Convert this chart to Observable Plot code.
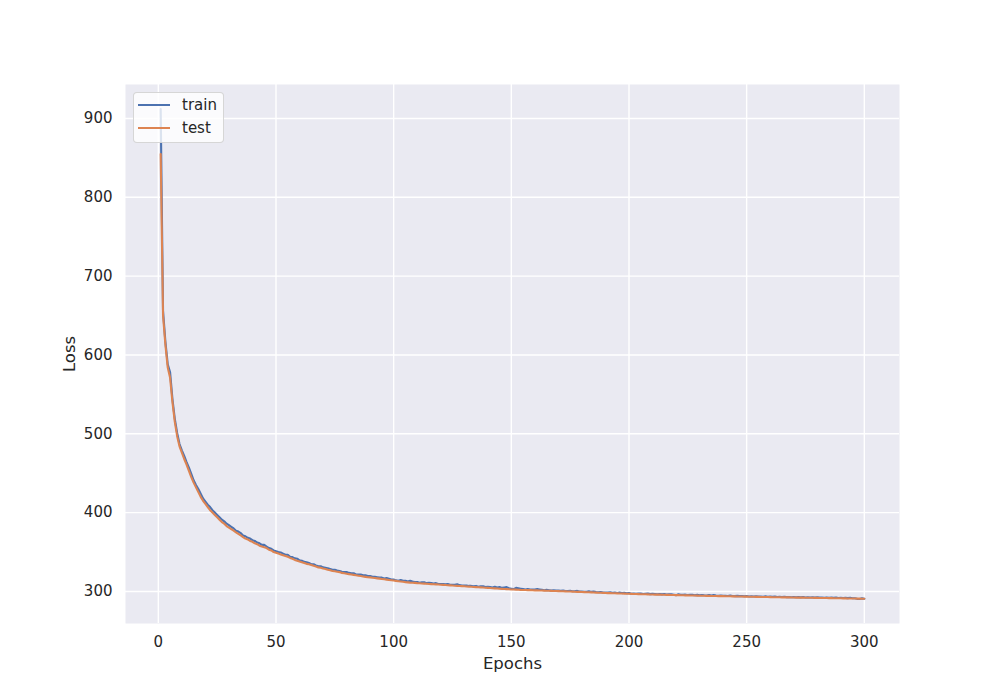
<!DOCTYPE html>
<html><head><meta charset="utf-8">
<script src="https://cdn.jsdelivr.net/npm/d3@7"></script>
<script src="https://cdn.jsdelivr.net/npm/@observablehq/plot@0.6"></script>
<style>
body{margin:0;background:#fff;}
#wrap{position:relative;width:1000px;height:700px;font-family:"DejaVu Sans",sans-serif;color:#262626;}
#legend{position:absolute;left:133px;top:92px;width:91px;height:51px;box-sizing:border-box;background:rgba(255,255,255,0.8);border:1px solid rgba(204,204,204,0.8);border-radius:4px;}
.row{position:absolute;left:0;height:20px;width:100%;}
.sw{position:absolute;left:4px;width:32px;top:9px;height:2.1px;}
.lab{position:absolute;left:48px;top:0;font-size:15px;line-height:20px;}
</style></head>
<body><div id="wrap"><div id="chart"></div>
<div id="legend"></div></div>
<script>
const seriesNames = ["train", "test"];
const seriesColors = ["#4c72b0", "#dd8452"];
const xTicks = [0, 50, 100, 150, 200, 250, 300];
const yTicks = [300, 400, 500, 600, 700, 800, 900];

const train = [
912, 656, 617, 588, 578, 544, 519, 501, 487, 479,
472, 464, 457, 449, 441, 435, 430, 424, 418, 414,
410, 407, 403, 400, 397, 394, 391, 389, 386, 384,
382, 380, 377, 376, 374, 371, 370, 368, 367, 365,
364, 362, 361, 359, 359, 357, 355, 354, 352, 351,
350, 349.5, 348, 346.5, 346.5, 344, 343.5, 342, 341.5, 339.5,
339, 337.5, 337, 336, 334.5, 334.5, 333, 332, 332, 330.5,
330, 329.5, 328.5, 327.5, 327.5, 326.5, 326, 325, 324.5, 324.5,
323.5, 323, 323, 321.5, 321.5, 321.5, 320.5, 320.5, 319.5, 319.5,
318.5, 318.5, 318, 317.5, 317.5, 316.5, 317, 316, 315, 315,
314, 313.5, 314.5, 313.5, 313.5, 312.5, 313.5, 312.5, 312, 312,
311, 311.5, 311.5, 310.5, 311, 310.5, 310, 310.5, 309.5, 309.5,
309.5, 309, 309.5, 308.5, 308.5, 308.5, 309, 308, 307.5, 307.5,
307.5, 307, 307, 306.5, 307, 306, 306.5, 306.5, 305.5, 306,
305.5, 305, 306, 305, 305.5, 304.5, 305, 305.5, 304, 303.5,
303, 304.5, 304, 303.5, 303, 302.5, 303, 302.5, 302.5, 302.5,
303, 302.5, 302, 301.5, 302, 301.5, 301, 301.5, 301, 301,
300.8, 301.2, 300.5, 300.6, 300.9, 300.3, 300.2, 300.7, 299.8, 299.7,
299.6, 299.5, 300.2, 299.4, 299.9, 299.2, 298.9, 299.3, 298.7, 298.6,
298.5, 298.8, 298.3, 298.6, 298.1, 298.5, 297.9, 298.3, 297.7, 297.9,
297, 297.3, 296.9, 297.2, 297.4, 296.8, 297.0, 297.2, 296.6, 296.9,
296.8, 296.4, 296.8, 296.3, 296.7, 296.1, 296.5, 296.3, 295.8, 295.3,
296.3, 295.7, 295.6, 295.9, 295.4, 295.7, 295.6, 295.2, 295.6, 295.1,
295.4, 295.1, 294.9, 295.4, 294.8, 295.3, 294.7, 294.6, 294.9, 294.4,
294.6, 294.3, 294.7, 294.2, 294.1, 294.4, 294.0, 294.3, 293.8, 294.1,
293.6, 293.8, 293.5, 293.9, 293.4, 293.6, 293.3, 293.7, 293.2, 293.4,
293.1, 293.5, 293.0, 293.2, 292.9, 293.3, 292.8, 293.0, 292.7, 292.9,
292.6, 292.8, 292.5, 292.9, 292.4, 292.6, 292.3, 292.5, 292.2, 292.6,
292.1, 292.3, 292.0, 292.4, 291.9, 292.1, 291.8, 292.2, 291.7, 291.9,
291.6, 291.8, 291.5, 291.9, 291.4, 291.3, 290.6, 290.4, 291.2, 290.8
];

const test = [
855, 650, 613, 584, 571, 540, 515, 497, 484, 476,
468, 461, 453, 445, 438, 432, 426, 420, 415, 411,
407, 403, 400, 397, 394, 391, 388, 386, 383, 381,
379, 377, 375, 373, 371, 369, 367, 366, 364, 363,
361, 360, 358, 357, 356, 355, 353, 352, 350, 349,
348, 347, 346, 345, 344, 342.5, 341.5, 340, 339, 338,
337, 336, 335, 334.5, 333.5, 332.5, 331.5, 330.5, 330, 329,
328.5, 327.5, 327, 326, 325.5, 325, 324.5, 323.5, 323, 322.5,
322, 321.5, 321, 320.5, 320, 319.5, 319, 318.5, 318, 317.8,
317.4, 317, 316.6, 316.2, 315.8, 315.4, 315, 314.6, 314.2, 313.8,
313.4, 313, 312.6, 312.2, 311.8, 311.5, 311.2, 311, 310.8, 310.5,
310.3, 310.1, 309.9, 309.7, 309.5, 309.3, 309.1, 308.9, 308.7, 308.5,
308.3, 308.1, 307.9, 307.7, 307.5, 307.3, 307.1, 306.9, 306.7, 306.5,
306.3, 306.1, 305.9, 305.7, 305.5, 305.3, 305.1, 304.9, 304.7, 304.5,
304.3, 304.1, 303.9, 303.7, 303.5, 303.3, 303.1, 302.9, 302.7, 302.5,
302.4, 302.3, 302.2, 302.0, 301.9, 301.8, 301.7, 301.6, 301.5, 301.4,
301.3, 301.2, 301.1, 301.0, 300.9, 300.8, 300.7, 300.6, 300.5, 300.4,
300.3, 300.2, 300.1, 300.0, 299.9, 299.8, 299.6, 299.5, 299.4, 299.2,
299.1, 299.0, 298.9, 298.8, 298.6, 298.5, 298.4, 298.3, 298.2, 298.0,
297.9, 297.8, 297.7, 297.6, 297.5, 297.4, 297.3, 297.2, 297.1, 297.0,
296.9, 296.8, 296.7, 296.6, 296.5, 296.5, 296.4, 296.3, 296.2, 296.1,
296.0, 296.0, 295.9, 295.8, 295.7, 295.6, 295.6, 295.5, 295.4, 295.3,
295.3, 295.2, 295.1, 295.0, 295.0, 294.9, 294.8, 294.8, 294.7, 294.6,
294.6, 294.5, 294.4, 294.4, 294.3, 294.2, 294.2, 294.1, 294.0, 294.0,
293.9, 293.9, 293.8, 293.7, 293.7, 293.6, 293.5, 293.5, 293.4, 293.4,
293.3, 293.3, 293.2, 293.1, 293.1, 293.0, 293.0, 292.9, 292.9, 292.8,
292.7, 292.7, 292.6, 292.6, 292.5, 292.5, 292.4, 292.4, 292.3, 292.3,
292.2, 292.2, 292.1, 292.1, 292.0, 292.0, 291.9, 291.9, 291.8, 291.8,
291.7, 291.7, 291.6, 291.6, 291.5, 291.5, 291.4, 291.4, 291.3, 291.3,
291.2, 291.2, 291.1, 291.1, 291.0, 291.0, 290.9, 290.9, 290.8, 290.8
];

const epochs = d3.range(1, train.length + 1);

const rows = [];
[train, test].forEach((vals, s) => {
  vals.forEach((v, i) => rows.push({epoch: epochs[i], loss: v, series: seriesNames[s]}));
});

// matplotlib-style 5% margins
const xExt = d3.extent(epochs), yExt = d3.extent(rows, d => d.loss);
const xPad = (xExt[1] - xExt[0]) * 0.05, yPad = (yExt[1] - yExt[0]) * 0.05;

const chart = Plot.plot({
  width: 1000, height: 700,
  marginLeft: 125, marginRight: 101, marginTop: 84, marginBottom: 77,
  style: {fontFamily: "DejaVu Sans, sans-serif", fontSize: "15px", color: "#262626", background: "transparent"},
  x: {domain: [xExt[0] - xPad, xExt[1] + xPad]},
  y: {domain: [yExt[0] - yPad, yExt[1] + yPad]},
  color: {domain: seriesNames, range: seriesColors},
  marks: [
    Plot.frame({fill: "#eaeaf2", stroke: null}),
    Plot.gridX(xTicks, {stroke: "white", strokeOpacity: 1, strokeWidth: 1.4}),
    Plot.gridY(yTicks, {stroke: "white", strokeOpacity: 1, strokeWidth: 1.4}),
    Plot.axisX(xTicks, {tickSize: 0, tickPadding: 13, fontSize: 15, label: "Epochs", labelAnchor: "center", labelArrow: "none", labelOffset: 45}),
    Plot.axisY(yTicks, {tickSize: 0, tickPadding: 13, fontSize: 15, label: "Loss", labelAnchor: "center", labelArrow: "none", labelOffset: 62}),
    Plot.line(rows.filter(d => d.series === "train"), {x: "epoch", y: "loss", stroke: "series", strokeWidth: 2.1}),
    Plot.line(rows.filter(d => d.series === "test"), {x: "epoch", y: "loss", stroke: "series", strokeWidth: 2.1})
  ]
});
document.getElementById("chart").appendChild(chart);
d3.select(chart).selectAll('g[aria-label="x-axis label"] text, g[aria-label="y-axis label"] text').style("font-size", "16.5px");

const leg = d3.select("#legend");
seriesNames.forEach((n, i) => {
  const r = leg.append("div").attr("class", "row").style("top", (2 + i * 23) + "px");
  r.append("div").attr("class", "sw").style("background", seriesColors[i]);
  r.append("div").attr("class", "lab").text(n);
});
</script></body></html>
